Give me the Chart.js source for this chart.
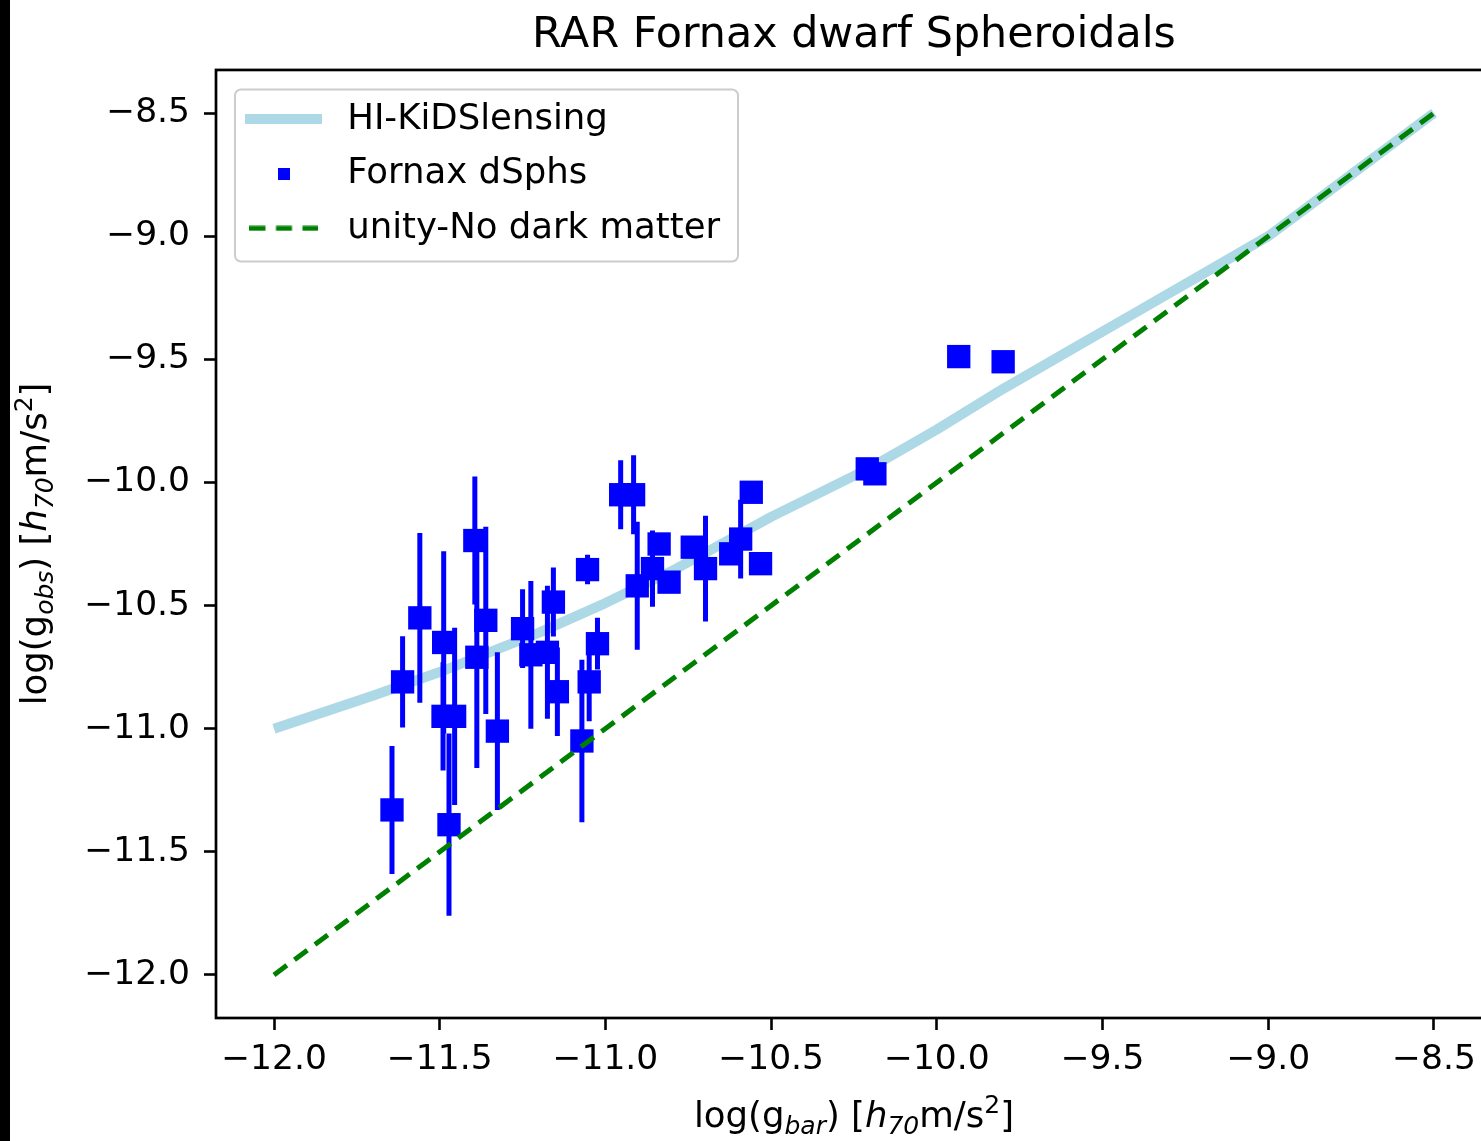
<!DOCTYPE html>
<html>
<head>
<meta charset="utf-8">
<title>RAR Fornax dwarf Spheroidals</title>
<script src="https://cdn.jsdelivr.net/npm/chart.js"></script>
<style>
  html, body { margin: 0; padding: 0; background: #fff; overflow: hidden; }
  #wrap { position: relative; width: 1481px; height: 1141px; overflow: hidden; }
  #mycanvas { position: absolute; left: 0; top: 0; background: #fff; }
  #edge { position: absolute; left: 0; top: 0; width: 10px; height: 1141px; background: #000; }
</style>
</head>
<body>
<div id="wrap">
  <canvas id="mycanvas" width="1520" height="1141"></canvas>
  <div id="edge"></div>
</div>
<script>
// HI-KiDS lensing RAR curve
var hiX = [-12.0, -11.7, -11.5, -11.2, -11.0, -10.8, -10.5, -10.2, -10.0, -9.8, -9.6, -9.4, -9.2, -9.0, -8.75, -8.5];
var hiY = [-11.0, -10.865, -10.77, -10.61, -10.49, -10.36, -10.14, -9.94, -9.785, -9.62, -9.465, -9.31, -9.155, -9.0, -8.75, -8.5];

// Fornax dSphs: log(gbar), log(gobs) and the error on log(gobs)
var dsphX = [-11.644, -11.612, -11.56, -11.488, -11.49, -11.455, -11.472, -11.394, -11.361, -11.388,
             -11.326, -11.25, -11.225, -11.175, -11.157, -11.145, -11.054, -11.024, -11.049, -11.071,
             -10.954, -10.915, -10.904, -10.858, -10.838, -10.808, -10.738, -10.698, -10.622, -10.592,
             -10.56, -10.532, -10.21, -10.187, -9.934, -9.80];
var dsphY = [-11.33, -10.81, -10.55, -10.65, -10.95, -10.95, -11.39, -10.236, -10.56, -10.71,
             -11.01, -10.594, -10.70, -10.69, -10.486, -10.85, -10.354, -10.655, -10.81, -11.05,
             -10.05, -10.05, -10.42, -10.35, -10.25, -10.405, -10.263, -10.35, -10.29, -10.23,
             -10.04, -10.33, -9.945, -9.965, -9.489, -9.51];
var dsphErr = [0.26, 0.185, 0.345, 0.37, 0.22, 0.36, 0.37, 0.26, 0.38, 0.45,
               0.32, 0.16, 0.30, 0.27, 0.14, 0.18, 0.06, 0.105, 0.16, 0.33,
               0.14, 0.16, 0.26, 0.155, 0.0, 0.04, 0.04, 0.215, 0.04, 0.16,
               0.04, 0.04, 0.0, 0.0, 0.0, 0.0];

// unity relation (no dark matter)
var unityX = [-12.0, -8.5];
var unityY = [-12.0, -8.5];

var xTicks = [-12.0, -11.5, -11.0, -10.5, -10.0, -9.5, -9.0, -8.5];
var yTicks = [-12.0, -11.5, -11.0, -10.5, -10.0, -9.5, -9.0, -8.5];

var FONT = '"DejaVu Sans", sans-serif';

function pairs(xs, ys) {
    var out = [];
    for (var i = 0; i < xs.length; i++) out.push({x: xs[i], y: ys[i]});
    return out;
}

// vertical error bars as one broken line
var errData = [];
for (var i = 0; i < dsphX.length; i++) {
    errData.push({x: dsphX[i], y: dsphY[i] - dsphErr[i]});
    errData.push({x: dsphX[i], y: dsphY[i] + dsphErr[i]});
    errData.push({x: dsphX[i], y: null});
}

function fmt(v) {
    return (v < 0 ? '\u2212' : '') + Math.abs(v).toFixed(1);
}

function swatch(w, h, draw) {
    var c = document.createElement('canvas');
    c.width = w; c.height = h;
    draw(c.getContext('2d'), w, h);
    return c;
}
var hiSwatch = swatch(77, 10, function(g, w, h){ g.fillStyle = 'lightblue'; g.fillRect(0, 0, w, h); });
var dsphSwatch = swatch(12, 12, function(g, w, h){ g.fillStyle = 'blue'; g.fillRect(0, 0, w, h); });
var unitySwatch = swatch(69, 6, function(g, w, h){
    g.strokeStyle = 'green'; g.lineWidth = 5; g.setLineDash([16, 10.5]);
    g.beginPath(); g.moveTo(0, h / 2); g.lineTo(w, h / 2); g.stroke();
});

function axisLabel(sub) {
    return [
        {t: 'log(g', font: '35.5px ' + FONT, dy: 0},
        {t: sub, font: 'italic 25px ' + FONT, dy: 7},
        {t: ') [', font: '35.5px ' + FONT, dy: 0},
        {t: 'h', font: 'italic 35.5px ' + FONT, dy: 0},
        {t: '70', font: 'italic 25px ' + FONT, dy: 7},
        {t: 'm/s', font: '35.5px ' + FONT, dy: 0},
        {t: '2', font: '25px ' + FONT, dy: -14},
        {t: ']', font: '35.5px ' + FONT, dy: 0}
    ];
}

function drawRich(ctx, parts, x, y, angle) {
    ctx.save();
    ctx.translate(x, y);
    ctx.rotate(angle);
    ctx.textBaseline = 'alphabetic';
    ctx.textAlign = 'left';
    ctx.fillStyle = '#000';
    var total = 0;
    parts.forEach(function(p){ ctx.font = p.font; total += ctx.measureText(p.t).width; });
    var cx = -total / 2;
    parts.forEach(function(p){
        ctx.font = p.font;
        ctx.fillText(p.t, cx, p.dy);
        cx += ctx.measureText(p.t).width;
    });
    ctx.restore();
}

var decor = {
    id: 'decor',
    afterLayout: function(chart) {
        // legend sits in the upper left corner of the axes
        var a = chart.chartArea;
        chart.legend.left = a.left + 3.45;
        chart.legend.top = a.top + 12.65;
    },
    beforeDraw: function(chart) {
        var ctx = chart.ctx, a = chart.chartArea;
        ctx.save();
        ctx.beginPath();
        ctx.roundRect(a.left + 19, a.top + 19.5, 503, 172, 6);
        ctx.fillStyle = 'rgba(255,255,255,0.8)';
        ctx.fill();
        ctx.strokeStyle = '#cccccc';
        ctx.lineWidth = 2;
        ctx.stroke();
        ctx.restore();
    },
    afterDraw: function(chart) {
        var ctx = chart.ctx, a = chart.chartArea;
        ctx.save();
        ctx.strokeStyle = '#000';
        ctx.lineWidth = 2.7;
        ctx.strokeRect(a.left, a.top, a.right - a.left, a.bottom - a.top);
        ctx.restore();
        drawRich(ctx, axisLabel('bar'), (a.left + a.right) / 2, 1127, 0);
        drawRich(ctx, axisLabel('obs'), 46, (a.top + a.bottom) / 2, -Math.PI / 2);
    }
};

var tickFont = {family: FONT, size: 34.5};
var legendFont = {family: FONT, size: 35.5};

var ctx = document.getElementById('mycanvas');
var chart = new Chart(ctx, {
    type: 'scatter',
    data: {
        datasets: [
            {
                label: 'HI-KiDSlensing',
                data: pairs(hiX, hiY),
                showLine: true,
                borderColor: 'lightblue',
                borderWidth: 10,
                borderJoinStyle: 'round',
                pointRadius: 0,
                order: 3
            },
            {
                label: 'Fornax dSphs',
                data: pairs(dsphX, dsphY),
                pointStyle: 'rect',
                pointRadius: 16.5,
                backgroundColor: 'blue',
                borderWidth: 0,
                order: 1
            },
            {
                label: '',
                data: errData,
                showLine: true,
                spanGaps: false,
                borderColor: 'blue',
                borderWidth: 5,
                pointRadius: 0,
                order: 2
            },
            {
                label: 'unity-No dark matter',
                data: pairs(unityX, unityY),
                showLine: true,
                borderColor: 'green',
                borderWidth: 5,
                borderDash: [16, 9.5],
                pointRadius: 0,
                order: 0
            }
        ]
    },
    plugins: [decor],
    options: {
        responsive: false,
        animation: false,
        events: [],
        layout: {padding: {left: 0, right: 28, top: 0, bottom: 0}},
        plugins: {
            title: {
                display: true,
                text: 'RAR Fornax dwarf Spheroidals',
                color: '#000',
                font: {family: FONT, size: 42.8, weight: 'normal'},
                padding: {top: 10.3, bottom: 8.3},
                fullSize: false
            },
            legend: {
                position: 'chartArea',
                align: 'start',
                labels: {
                    usePointStyle: true,
                    pointStyleWidth: 91,
                    padding: 19,
                    color: '#000',
                    font: legendFont,
                    generateLabels: function(chart) {
                        var sw = [hiSwatch, dsphSwatch, null, unitySwatch];
                        var items = [];
                        chart.data.datasets.forEach(function(ds, i){
                            if (!ds.label) return;
                            items.push({text: ds.label, pointStyle: sw[i], datasetIndex: i,
                                        lineWidth: 0, fillStyle: 'rgba(0,0,0,0)', strokeStyle: 'rgba(0,0,0,0)'});
                        });
                        return items;
                    }
                }
            },
            tooltip: {enabled: false}
        },
        scales: {
            x: {
                type: 'linear',
                position: 'bottom',
                min: -12.175,
                max: -8.325,
                afterFit: function(scale){ scale.height = 123; },
                afterBuildTicks: function(scale){ scale.ticks = xTicks.map(function(v){ return {value: v}; }); },
                grid: {display: true, drawOnChartArea: false, drawTicks: true, tickLength: 12, tickWidth: 2.6, tickColor: '#000'},
                border: {display: false},
                ticks: {callback: fmt, color: '#000', font: tickFont, padding: 9, maxRotation: 0, autoSkip: false}
            },
            y: {
                type: 'linear',
                position: 'left',
                min: -12.175,
                max: -8.325,
                afterFit: function(scale){ scale.width = 216; },
                afterBuildTicks: function(scale){ scale.ticks = yTicks.map(function(v){ return {value: v}; }); },
                grid: {display: true, drawOnChartArea: false, drawTicks: true, tickLength: 12, tickWidth: 2.6, tickColor: '#000'},
                border: {display: false},
                ticks: {callback: fmt, color: '#000', font: tickFont, padding: 14, autoSkip: false}
            }
        }
    }
});
</script>
</body>
</html>
